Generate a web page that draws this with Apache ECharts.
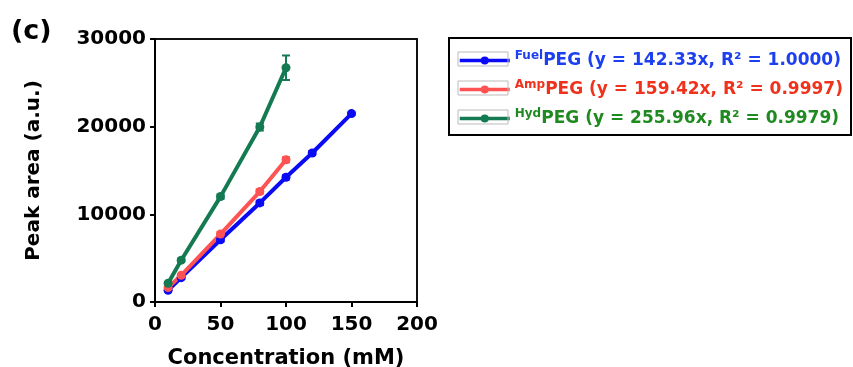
<!DOCTYPE html>
<html><head><meta charset="utf-8">
<script src="https://cdn.jsdelivr.net/npm/echarts@6/dist/echarts.min.js"></script>
<style>html,body{margin:0;padding:0;background:#fff}#c{width:853px;height:367px}</style>
</head><body><div id="c"></div>
<script>
var xTicks = [0, 50, 100, 150, 200];
var yTicks = [0, 10000, 20000, 30000];
var fuelX = [10, 20, 50, 80, 100, 120, 150];
var fuelY = [1340, 2780, 7100, 11300, 14230, 17000, 21490];
var fuelErr = [150, 150, 200, 250, 250, 200, 150];
var ampX = [10, 20, 50, 80, 100];
var ampY = [1640, 3050, 7750, 12600, 16220];
var ampErr = [150, 150, 250, 250, 300];
var hydX = [10, 20, 50, 80, 100];
var hydY = [2140, 4770, 12020, 19960, 26720];
var hydErr = [150, 200, 250, 400, 1400];
var seriesNames = ['Fuel', 'Amp', 'Hyd'];
var legendText = ['PEG (y = 142.33x, R² = 1.0000)', 'PEG (y = 159.42x, R² = 0.9997)', 'PEG (y = 255.96x, R² = 0.9979)'];
var lineColors = ['#0a0af5', '#ff5252', '#137a52'];
var textColors = ['#1c3ff0', '#f0321c', '#1f8a1f'];

var FONT = 'DejaVu Sans';
function pts(xs, ys) { return xs.map(function (x, i) { return [x, ys[i]]; }); }
function errData(xs, ys, es) { return xs.map(function (x, i) { return [x, ys[i] - es[i], ys[i] + es[i]]; }); }
function errSeries(name, xs, ys, es, color) {
  return {
    type: 'custom', name: name + '_err', z: 3, silent: true,
    data: errData(xs, ys, es),
    renderItem: function (params, api) {
      var lo = api.coord([api.value(0), api.value(1)]);
      var hi = api.coord([api.value(0), api.value(2)]);
      var w = 4;
      var st = { stroke: color, lineWidth: 2 };
      return { type: 'group', children: [
        { type: 'line', shape: { x1: lo[0], y1: lo[1], x2: hi[0], y2: hi[1] }, style: st },
        { type: 'line', shape: { x1: lo[0] - w, y1: lo[1], x2: lo[0] + w, y2: lo[1] }, style: st },
        { type: 'line', shape: { x1: hi[0] - w, y1: hi[1], x2: hi[0] + w, y2: hi[1] }, style: st }
      ] };
    }
  };
}
function lineSeries(i, xs, ys) {
  return {
    type: 'line', name: seriesNames[i], data: pts(xs, ys), z: 4,
    symbol: 'circle', symbolSize: 9,
    lineStyle: { color: lineColors[i], width: 4 },
    itemStyle: { color: lineColors[i] }
  };
}
var rich = {};
seriesNames.forEach(function (n, i) {
  rich['s' + i] = { fontFamily: FONT, fontWeight: 'bold', fontSize: 12, color: textColors[i], verticalAlign: 'top', lineHeight: 21, padding: [0, 0, 7, 0] };
  rich['m' + i] = { fontFamily: FONT, fontWeight: 'bold', fontSize: 17, color: textColors[i], lineHeight: 21 };
});

var chart = echarts.init(document.getElementById('c'));
chart.setOption({
  animation: false,
  grid: { left: 155, right: 436, top: 39, bottom: 65, outerBoundsMode: 'none', containLabel: false, show: true, borderColor: '#111', borderWidth: 2, backgroundColor: 'transparent' },
  xAxis: {
    type: 'value', min: xTicks[0], max: xTicks[xTicks.length - 1], interval: 50,
    name: 'Concentration (mM)', nameLocation: 'middle', nameGap: 46,
    nameTextStyle: { fontFamily: FONT, fontWeight: 'bold', fontSize: 21, color: '#000' },
    axisLine: { lineStyle: { color: '#000', width: 2 } },
    axisTick: { length: 5, lineStyle: { color: '#000', width: 2 } },
    axisLabel: { fontFamily: FONT, fontWeight: 'bold', fontSize: 20, color: '#000', margin: 13, formatter: function (v) { return String(v); } },
    splitLine: { show: false }
  },
  yAxis: {
    type: 'value', min: yTicks[0], max: yTicks[yTicks.length - 1], interval: 10000,
    name: 'Peak area (a.u.)', nameLocation: 'middle', nameGap: 111, nameRotate: 90,
    nameTextStyle: { fontFamily: FONT, fontWeight: 'bold', fontSize: 20, color: '#000' },
    axisLine: { lineStyle: { color: '#000', width: 2 } },
    axisTick: { length: 5, lineStyle: { color: '#000', width: 2 } },
    axisLabel: { fontFamily: FONT, fontWeight: 'bold', fontSize: 20, color: '#000', margin: 9, formatter: function (v) { return String(v); } },
    splitLine: { show: false }
  },
  legend: {
    orient: 'vertical', left: 453, top: 45, itemWidth: 50, itemHeight: 10, itemGap: 10,
    lineStyle: { width: 3.5 },
    data: seriesNames.map(function (n) { return { name: n }; }),
    formatter: function (name) {
      var i = seriesNames.indexOf(name);
      return '{s' + i + '|' + name + '}{m' + i + '|' + legendText[i] + '}';
    },
    textStyle: { rich: rich }
  },
  graphic: [
    { type: 'rect', shape: { x: 449, y: 38, width: 402, height: 97 }, style: { fill: 'none', stroke: '#000', lineWidth: 2 } },
    { type: 'rect', shape: { x: 458, y: 52, width: 50, height: 14 }, style: { fill: 'none', stroke: '#bbb', lineWidth: 1 }, z: 10 },
    { type: 'rect', shape: { x: 458, y: 81, width: 50, height: 14 }, style: { fill: 'none', stroke: '#bbb', lineWidth: 1 }, z: 10 },
    { type: 'rect', shape: { x: 458, y: 110, width: 50, height: 14 }, style: { fill: 'none', stroke: '#bbb', lineWidth: 1 }, z: 10 },
    { type: 'text', left: 11, top: 18, style: { text: '(c)', fontFamily: FONT, fontWeight: 'bold', fontSize: 27, fill: '#000' } }
  ],
  series: [
    lineSeries(0, fuelX, fuelY),
    lineSeries(1, ampX, ampY),
    lineSeries(2, hydX, hydY),
    errSeries('Fuel', fuelX, fuelY, fuelErr, lineColors[0]),
    errSeries('Amp', ampX, ampY, ampErr, lineColors[1]),
    errSeries('Hyd', hydX, hydY, hydErr, lineColors[2])
  ]
});
</script></body></html>
